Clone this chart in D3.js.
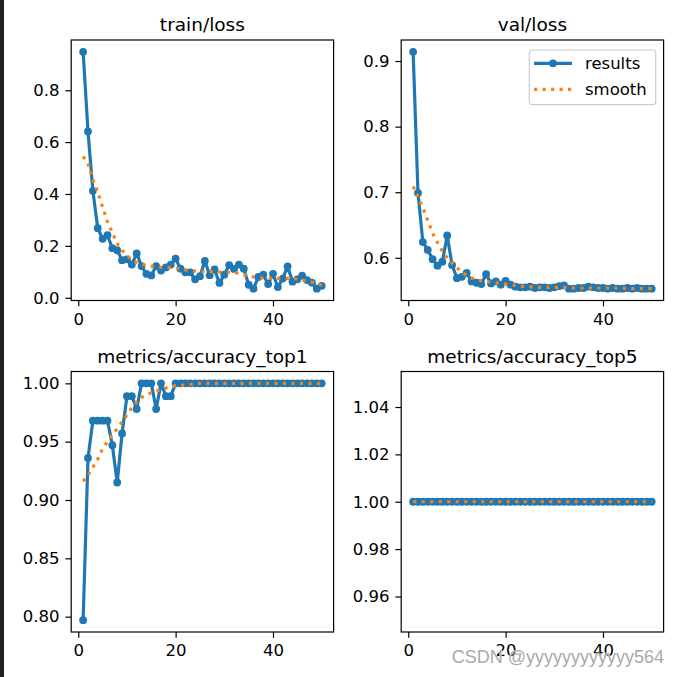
<!DOCTYPE html>
<html><head><meta charset="utf-8">
<script src="https://cdn.jsdelivr.net/npm/d3@7"></script>
<style>
html,body{margin:0;padding:0;background:#fff;}
svg{display:block;font-family:"DejaVu Sans",sans-serif;}
</style></head>
<body>
<svg id="chart" width="680" height="677"></svg>
<script>
const epochs = [1,2,3,4,5,6,7,8,9,10,11,12,13,14,15,16,17,18,19,20,21,22,23,24,25,26,27,28,29,30,31,32,33,34,35,36,37,38,39,40,41,42,43,44,45,46,47,48,49,50];

const titles = ["train/loss", "val/loss", "metrics/accuracy_top1", "metrics/accuracy_top5"];

const trainLoss = [0.948,0.641,0.412,0.268,0.227,0.241,0.191,0.183,0.145,0.148,
  0.128,0.171,0.122,0.092,0.086,0.122,0.105,0.117,0.128,0.151,
  0.112,0.098,0.098,0.071,0.083,0.142,0.087,0.109,0.057,0.089,
  0.126,0.111,0.128,0.112,0.050,0.035,0.080,0.089,0.053,0.092,
  0.041,0.074,0.121,0.062,0.071,0.085,0.068,0.058,0.035,0.046];
const trainSmooth = [0.545,0.517,0.455,0.408,0.350,0.293,0.251,0.209,0.183,0.163,
  0.146,0.136,0.130,0.124,0.122,0.118,0.117,0.117,0.116,0.114,
  0.111,0.107,0.104,0.103,0.102,0.101,0.101,0.099,0.099,0.099,
  0.098,0.098,0.094,0.089,0.083,0.080,0.078,0.076,0.075,0.075,
  0.075,0.075,0.075,0.075,0.072,0.068,0.064,0.060,0.055,0.048];

const valLoss = [0.914,0.699,0.624,0.612,0.598,0.588,0.594,0.634,0.589,0.569,
  0.571,0.577,0.564,0.562,0.560,0.575,0.561,0.564,0.559,0.565,
  0.559,0.556,0.555,0.555,0.556,0.554,0.555,0.555,0.554,0.555,
  0.557,0.558,0.553,0.553,0.554,0.554,0.556,0.555,0.554,0.554,
  0.553,0.554,0.553,0.553,0.554,0.553,0.554,0.553,0.553,0.553];
const valSmooth = [0.709,0.693,0.676,0.657,0.638,0.623,0.610,0.600,0.592,0.585,
  0.578,0.573,0.569,0.567,0.565,0.564,0.563,0.562,0.561,0.560,
  0.559,0.558,0.557,0.556,0.556,0.555,0.555,0.555,0.555,0.555,
  0.555,0.555,0.555,0.554,0.554,0.554,0.554,0.554,0.554,0.554,
  0.554,0.554,0.554,0.554,0.553,0.553,0.553,0.553,0.553,0.553];

const top1 = [0.797,0.936,0.968,0.968,0.968,0.968,0.947,0.915,0.957,0.989,
  0.989,0.978,1,1,1,0.978,1,0.989,0.989,1,
  1,1,1,1,1,1,1,1,1,1,
  1,1,1,1,1,1,1,1,1,1,
  1,1,1,1,1,1,1,1,1,1];
const top1Smooth = [0.916,0.921,0.928,0.935,0.944,0.950,0.956,0.961,0.967,0.973,
  0.979,0.984,0.988,0.990,0.992,0.993,0.995,0.996,0.997,0.998,
  0.998,0.999,0.999,1,1,1,1,1,1,1,
  1,1,1,1,1,1,1,1,1,1,
  1,1,1,1,1,1,1,1,1,1];

const top5 = [1,1,1,1,1,1,1,1,1,1, 1,1,1,1,1,1,1,1,1,1, 1,1,1,1,1,1,1,1,1,1, 1,1,1,1,1,1,1,1,1,1, 1,1,1,1,1,1,1,1,1,1];
const top5Smooth = [1,1,1,1,1,1,1,1,1,1, 1,1,1,1,1,1,1,1,1,1, 1,1,1,1,1,1,1,1,1,1, 1,1,1,1,1,1,1,1,1,1, 1,1,1,1,1,1,1,1,1,1];

const xTicks = [0, 20, 40];
const yTicks1 = [0.0, 0.2, 0.4, 0.6, 0.8];
const yTicks2 = [0.6, 0.7, 0.8, 0.9];
const yTicks3 = [0.80, 0.85, 0.90, 0.95, 1.00];
const yTicks4 = [0.96, 0.98, 1.00, 1.02, 1.04];
const legendLabels = ["results", "smooth"];
const watermark = "CSDN @yyyyyyyyyyyy564";

const BLUE = "#1f77b4", ORANGE = "#ff7f0e";
const svg = d3.select("#chart");

// dark strip at left edge
svg.append("rect").attr("x",0).attr("y",0).attr("width",4).attr("height",677).attr("fill","#222");

const panels = [
  {title: titles[0], y: trainLoss, s: trainSmooth, ticks: yTicks1, fmt: ".1f", x0: 71.2, y0: 40, legend: false},
  {title: titles[1], y: valLoss, s: valSmooth, ticks: yTicks2, fmt: ".1f", x0: 401.2, y0: 40, legend: true},
  {title: titles[2], y: top1, s: top1Smooth, ticks: yTicks3, fmt: ".2f", x0: 71.2, y0: 371.5, legend: false},
  {title: titles[3], y: top5, s: top5Smooth, ticks: yTicks4, fmt: ".2f", x0: 401.2, y0: 371.5, legend: false}
];
const W = 262.4, H = 260.5;
const tickLen = 5.8, tickPad = 5.8, fs = 16.5;

function autoLim(vals){
  let lo = d3.min(vals), hi = d3.max(vals);
  if (hi - lo < 1e-12) { lo = lo - Math.abs(lo)*0.05; hi = hi + Math.abs(hi)*0.05; }
  const m = (hi - lo) * 0.05;
  return [lo - m, hi + m];
}

panels.forEach(p => {
  const g = svg.append("g").attr("transform", `translate(${p.x0},${p.y0})`);
  const xlo = d3.min(epochs), xhi = d3.max(epochs), xm = (xhi - xlo) * 0.05;
  const x = d3.scaleLinear().domain([xlo - xm, xhi + xm]).range([0, W]);
  const y = d3.scaleLinear().domain(autoLim(p.y.concat(p.s))).range([H, 0]);

  const clipId = "clip" + p.x0 + "_" + p.y0;
  g.append("clipPath").attr("id", clipId.replace(/\./g,"_"))
    .append("rect").attr("width", W).attr("height", H);
  const plot = g.append("g").attr("clip-path", `url(#${clipId.replace(/\./g,"_")})`);

  const line = d3.line().x((d,i) => x(epochs[i])).y(d => y(d));
  plot.append("path").attr("d", line(p.y)).attr("fill","none")
    .attr("stroke", BLUE).attr("stroke-width", 3.2).attr("stroke-linejoin","round").attr("stroke-linecap","butt");
  plot.selectAll("circle.pt").data(p.y).enter().append("circle")
    .attr("cx", (d,i) => x(epochs[i])).attr("cy", d => y(d)).attr("r", 3.9).attr("fill", BLUE);
  plot.append("path").attr("d", line(p.s)).attr("fill","none")
    .attr("stroke", ORANGE).attr("stroke-width", 3.2).attr("stroke-dasharray","3.2,5.3");

  // axes
  const ax = g.append("g").attr("transform", `translate(0,${H})`)
    .call(d3.axisBottom(x).tickValues(xTicks).tickFormat(d3.format("d")).tickSize(tickLen).tickPadding(tickPad));
  const ay = g.append("g")
    .call(d3.axisLeft(y).tickValues(p.ticks).tickFormat(d3.format(p.fmt)).tickSize(tickLen).tickPadding(tickPad));
  [ax, ay].forEach(a => {
    a.select(".domain").remove();
    a.selectAll(".tick line").attr("stroke","#000").attr("stroke-width",1.2);
    a.selectAll(".tick text").attr("font-size", fs).attr("font-family","DejaVu Sans").attr("fill","#000");
  });
  ax.selectAll(".tick text").attr("dy","0.76em");

  g.append("rect").attr("width", W).attr("height", H).attr("fill","none")
    .attr("stroke","#000").attr("stroke-width",1.2);

  g.append("text").attr("x", W/2).attr("y", -9).attr("text-anchor","middle")
    .attr("font-size", 18.5).attr("fill","#000").text(p.title);

  if (p.legend) {
    const lg = g.append("g").attr("transform", `translate(${529.3 - p.x0},${50 - p.y0})`);
    lg.append("rect").attr("width",126.4).attr("height",54.7).attr("rx",3)
      .attr("fill","#fff").attr("fill-opacity",0.8).attr("stroke","#ccc").attr("stroke-width",1.2);
    lg.append("line").attr("x1",4.7).attr("x2",42.7).attr("y1",13.3).attr("y2",13.3)
      .attr("stroke",BLUE).attr("stroke-width",3.2);
    lg.append("circle").attr("cx",23.7).attr("cy",13.3).attr("r",3.9).attr("fill",BLUE);
    lg.append("line").attr("x1",4.7).attr("x2",42.7).attr("y1",39.3).attr("y2",39.3)
      .attr("stroke",ORANGE).attr("stroke-width",3.2).attr("stroke-dasharray","3.2,5.3");
    lg.selectAll("text.lt").data(legendLabels).enter().append("text")
      .attr("x", 55.7).attr("y", (d,i) => 13.3 + i*26).attr("dy","0.35em")
      .attr("font-size", fs).attr("fill","#000").text(d => d);
  }
});

svg.append("text").attr("x", 664).attr("y", 663).attr("text-anchor","end")
  .attr("font-family","Liberation Sans, Arial, sans-serif").attr("font-size",18)
  .attr("fill","#a9a9a9").attr("stroke","#fff").attr("stroke-width",0.6).attr("paint-order","stroke")
  .text(watermark);
</script>
</body></html>
